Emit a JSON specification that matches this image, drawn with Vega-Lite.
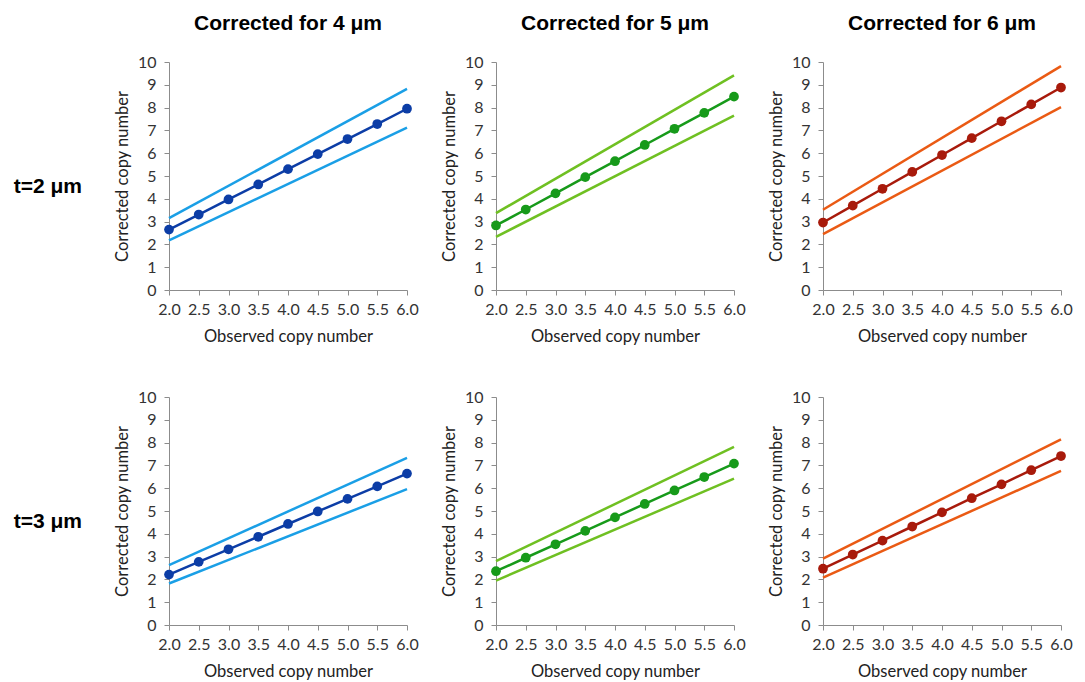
{
 "$schema": "https://vega.github.io/schema/vega-lite/v6.json",
 "background": "white",
 "padding": {"left": 13, "top": 13, "right": 5, "bottom": 5},
 "datasets": {
  "d": [
   {"t":"t=2 μm","c":"Corrected for 4 μm","s":"mid","x":2.0,"y":2.65},
   {"t":"t=2 μm","c":"Corrected for 4 μm","s":"mid","x":2.5,"y":3.31},
   {"t":"t=2 μm","c":"Corrected for 4 μm","s":"mid","x":3.0,"y":3.97},
   {"t":"t=2 μm","c":"Corrected for 4 μm","s":"mid","x":3.5,"y":4.63},
   {"t":"t=2 μm","c":"Corrected for 4 μm","s":"mid","x":4.0,"y":5.30},
   {"t":"t=2 μm","c":"Corrected for 4 μm","s":"mid","x":4.5,"y":5.96},
   {"t":"t=2 μm","c":"Corrected for 4 μm","s":"mid","x":5.0,"y":6.62},
   {"t":"t=2 μm","c":"Corrected for 4 μm","s":"mid","x":5.5,"y":7.28},
   {"t":"t=2 μm","c":"Corrected for 4 μm","s":"mid","x":6.0,"y":7.95},
   {"t":"t=2 μm","c":"Corrected for 4 μm","s":"upper","x":2.0,"y":3.15},
   {"t":"t=2 μm","c":"Corrected for 4 μm","s":"upper","x":6.0,"y":8.82},
   {"t":"t=2 μm","c":"Corrected for 4 μm","s":"lower","x":2.0,"y":2.18},
   {"t":"t=2 μm","c":"Corrected for 4 μm","s":"lower","x":6.0,"y":7.12},

   {"t":"t=2 μm","c":"Corrected for 5 μm","s":"mid","x":2.0,"y":2.83},
   {"t":"t=2 μm","c":"Corrected for 5 μm","s":"mid","x":2.5,"y":3.53},
   {"t":"t=2 μm","c":"Corrected for 5 μm","s":"mid","x":3.0,"y":4.24},
   {"t":"t=2 μm","c":"Corrected for 5 μm","s":"mid","x":3.5,"y":4.95},
   {"t":"t=2 μm","c":"Corrected for 5 μm","s":"mid","x":4.0,"y":5.65},
   {"t":"t=2 μm","c":"Corrected for 5 μm","s":"mid","x":4.5,"y":6.36},
   {"t":"t=2 μm","c":"Corrected for 5 μm","s":"mid","x":5.0,"y":7.07},
   {"t":"t=2 μm","c":"Corrected for 5 μm","s":"mid","x":5.5,"y":7.77},
   {"t":"t=2 μm","c":"Corrected for 5 μm","s":"mid","x":6.0,"y":8.48},
   {"t":"t=2 μm","c":"Corrected for 5 μm","s":"upper","x":2.0,"y":3.37},
   {"t":"t=2 μm","c":"Corrected for 5 μm","s":"upper","x":6.0,"y":9.41},
   {"t":"t=2 μm","c":"Corrected for 5 μm","s":"lower","x":2.0,"y":2.33},
   {"t":"t=2 μm","c":"Corrected for 5 μm","s":"lower","x":6.0,"y":7.65},

   {"t":"t=2 μm","c":"Corrected for 6 μm","s":"mid","x":2.0,"y":2.96},
   {"t":"t=2 μm","c":"Corrected for 6 μm","s":"mid","x":2.5,"y":3.70},
   {"t":"t=2 μm","c":"Corrected for 6 μm","s":"mid","x":3.0,"y":4.44},
   {"t":"t=2 μm","c":"Corrected for 6 μm","s":"mid","x":3.5,"y":5.18},
   {"t":"t=2 μm","c":"Corrected for 6 μm","s":"mid","x":4.0,"y":5.92},
   {"t":"t=2 μm","c":"Corrected for 6 μm","s":"mid","x":4.5,"y":6.66},
   {"t":"t=2 μm","c":"Corrected for 6 μm","s":"mid","x":5.0,"y":7.40},
   {"t":"t=2 μm","c":"Corrected for 6 μm","s":"mid","x":5.5,"y":8.14},
   {"t":"t=2 μm","c":"Corrected for 6 μm","s":"mid","x":6.0,"y":8.88},
   {"t":"t=2 μm","c":"Corrected for 6 μm","s":"upper","x":2.0,"y":3.52},
   {"t":"t=2 μm","c":"Corrected for 6 μm","s":"upper","x":6.0,"y":9.82},
   {"t":"t=2 μm","c":"Corrected for 6 μm","s":"lower","x":2.0,"y":2.45},
   {"t":"t=2 μm","c":"Corrected for 6 μm","s":"lower","x":6.0,"y":8.02},

   {"t":"t=3 μm","c":"Corrected for 4 μm","s":"mid","x":2.0,"y":2.21},
   {"t":"t=3 μm","c":"Corrected for 4 μm","s":"mid","x":2.5,"y":2.77},
   {"t":"t=3 μm","c":"Corrected for 4 μm","s":"mid","x":3.0,"y":3.32},
   {"t":"t=3 μm","c":"Corrected for 4 μm","s":"mid","x":3.5,"y":3.87},
   {"t":"t=3 μm","c":"Corrected for 4 μm","s":"mid","x":4.0,"y":4.43},
   {"t":"t=3 μm","c":"Corrected for 4 μm","s":"mid","x":4.5,"y":4.98},
   {"t":"t=3 μm","c":"Corrected for 4 μm","s":"mid","x":5.0,"y":5.53},
   {"t":"t=3 μm","c":"Corrected for 4 μm","s":"mid","x":5.5,"y":6.08},
   {"t":"t=3 μm","c":"Corrected for 4 μm","s":"mid","x":6.0,"y":6.64},
   {"t":"t=3 μm","c":"Corrected for 4 μm","s":"upper","x":2.0,"y":2.63},
   {"t":"t=3 μm","c":"Corrected for 4 μm","s":"upper","x":6.0,"y":7.33},
   {"t":"t=3 μm","c":"Corrected for 4 μm","s":"lower","x":2.0,"y":1.82},
   {"t":"t=3 μm","c":"Corrected for 4 μm","s":"lower","x":6.0,"y":5.96},

   {"t":"t=3 μm","c":"Corrected for 5 μm","s":"mid","x":2.0,"y":2.36},
   {"t":"t=3 μm","c":"Corrected for 5 μm","s":"mid","x":2.5,"y":2.95},
   {"t":"t=3 μm","c":"Corrected for 5 μm","s":"mid","x":3.0,"y":3.54},
   {"t":"t=3 μm","c":"Corrected for 5 μm","s":"mid","x":3.5,"y":4.13},
   {"t":"t=3 μm","c":"Corrected for 5 μm","s":"mid","x":4.0,"y":4.72},
   {"t":"t=3 μm","c":"Corrected for 5 μm","s":"mid","x":4.5,"y":5.31},
   {"t":"t=3 μm","c":"Corrected for 5 μm","s":"mid","x":5.0,"y":5.90},
   {"t":"t=3 μm","c":"Corrected for 5 μm","s":"mid","x":5.5,"y":6.49},
   {"t":"t=3 μm","c":"Corrected for 5 μm","s":"mid","x":6.0,"y":7.08},
   {"t":"t=3 μm","c":"Corrected for 5 μm","s":"upper","x":2.0,"y":2.80},
   {"t":"t=3 μm","c":"Corrected for 5 μm","s":"upper","x":6.0,"y":7.81},
   {"t":"t=3 μm","c":"Corrected for 5 μm","s":"lower","x":2.0,"y":1.95},
   {"t":"t=3 μm","c":"Corrected for 5 μm","s":"lower","x":6.0,"y":6.42},

   {"t":"t=3 μm","c":"Corrected for 6 μm","s":"mid","x":2.0,"y":2.47},
   {"t":"t=3 μm","c":"Corrected for 6 μm","s":"mid","x":2.5,"y":3.09},
   {"t":"t=3 μm","c":"Corrected for 6 μm","s":"mid","x":3.0,"y":3.70},
   {"t":"t=3 μm","c":"Corrected for 6 μm","s":"mid","x":3.5,"y":4.32},
   {"t":"t=3 μm","c":"Corrected for 6 μm","s":"mid","x":4.0,"y":4.94},
   {"t":"t=3 μm","c":"Corrected for 6 μm","s":"mid","x":4.5,"y":5.56},
   {"t":"t=3 μm","c":"Corrected for 6 μm","s":"mid","x":5.0,"y":6.17},
   {"t":"t=3 μm","c":"Corrected for 6 μm","s":"mid","x":5.5,"y":6.79},
   {"t":"t=3 μm","c":"Corrected for 6 μm","s":"mid","x":6.0,"y":7.41},
   {"t":"t=3 μm","c":"Corrected for 6 μm","s":"upper","x":2.0,"y":2.91},
   {"t":"t=3 μm","c":"Corrected for 6 μm","s":"upper","x":6.0,"y":8.14},
   {"t":"t=3 μm","c":"Corrected for 6 μm","s":"lower","x":2.0,"y":2.08},
   {"t":"t=3 μm","c":"Corrected for 6 μm","s":"lower","x":6.0,"y":6.76}
  ]
 },
 "data": {"name": "d"},
 "facet": {
  "row": {"field": "t", "type": "nominal", "sort": ["t=2 μm", "t=3 μm"],
   "header": {"title": null, "labelAngle": 0, "labelOrient": "left", "labelAlign": "left", "labelBaseline": "top", "labelFont": "Liberation Sans", "labelFontWeight": "bold", "labelFontSize": 21, "labelColor": "black", "labelPadding": 32}},
  "column": {"field": "c", "type": "nominal", "sort": ["Corrected for 4 μm", "Corrected for 5 μm", "Corrected for 6 μm"],
   "header": {"title": null, "labelFont": "Liberation Sans", "labelFontWeight": "bold", "labelFontSize": 21, "labelColor": "black", "labelPadding": 20}}
 },
 "spacing": {"row": 44, "column": 22},
 "resolve": {"axis": {"x": "independent", "y": "independent"}},
 "spec": {
  "width": 238,
  "height": 228,
  "encoding": {
   "x": {"field": "x", "type": "quantitative", "title": "Observed copy number",
    "scale": {"domain": [2, 6], "nice": false, "zero": false},
    "axis": {"values": [2, 2.5, 3, 3.5, 4, 4.5, 5, 5.5, 6], "format": ".1f", "titlePadding": 11, "labelPadding": 6}},
   "y": {"field": "y", "type": "quantitative", "title": "Corrected copy number",
    "scale": {"domain": [0, 10], "nice": false},
    "axis": {"values": [0, 1, 2, 3, 4, 5, 6, 7, 8, 9, 10], "titlePadding": 7, "labelPadding": 8}}
  },
  "layer": [
   {
    "transform": [{"filter": "datum.s != 'mid'"}],
    "mark": {"type": "line", "strokeWidth": 2.5},
    "encoding": {
     "detail": {"field": "s"},
     "color": {"field": "c", "type": "nominal", "legend": null,
      "scale": {"domain": ["Corrected for 4 μm", "Corrected for 5 μm", "Corrected for 6 μm"], "range": ["#1a9fe6", "#6fc022", "#ea5a14"]}}
    }
   },
   {
    "transform": [{"filter": "datum.s == 'mid'"}],
    "mark": {"type": "line", "strokeWidth": 2.5, "point": {"filled": true, "size": 95, "opacity": 1}},
    "encoding": {
     "color": {"field": "c", "type": "nominal", "legend": null,
      "scale": {"domain": ["Corrected for 4 μm", "Corrected for 5 μm", "Corrected for 6 μm"], "range": ["#0c3da6", "#179a1a", "#a81a0b"]}}
    }
   }
  ],
  "resolve": {"scale": {"color": "independent"}}
 },
 "config": {
  "view": {"stroke": null},
  "axis": {"grid": false, "labelFont": "Lato", "labelFontSize": 16, "labelColor": "#333333", "labelOverlap": false, "labelFlush": false, "labelBound": false, "titleFont": "Lato", "titleFontSize": 16.5, "titleFontWeight": "normal", "titleColor": "#222222", "domainColor": "#8c8c8c", "tickColor": "#8c8c8c", "tickSize": 5}
 }
}
